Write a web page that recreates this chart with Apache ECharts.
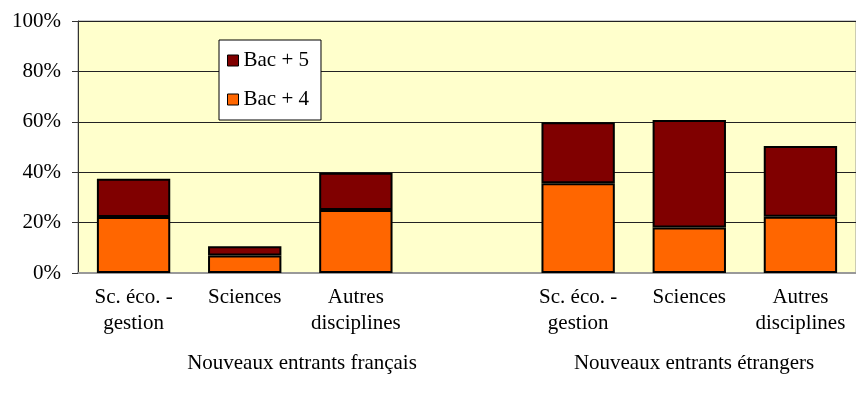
<!DOCTYPE html>
<html>
<head>
<meta charset="utf-8">
<script src="https://cdn.jsdelivr.net/npm/echarts@6/dist/echarts.min.js"></script>
<style>
  html, body {margin: 0; padding: 0; background: #fff;}
  #chart {width: 856px; height: 403px;}
</style>
</head>
<body>
<div id="chart"></div>
<script>
// categories (empty slot between the two groups)
var categories = ['Sc. éco. -\ngestion', 'Sciences', 'Autres\ndisciplines', '', 'Sc. éco. -\ngestion', 'Sciences', 'Autres\ndisciplines'];
var bac4 = [22.2, 6.9, 25.0, '-', 35.6, 18.1, 22.3];
var bac5 = [15.2, 3.7, 14.8, '-', 24.2, 42.6, 28.1];
var groupLabels = ['Nouveaux entrants français', 'Nouveaux entrants étrangers'];
var yTicks = [0, 20, 40, 60, 80, 100];

var font = '"Liberation Serif", "DejaVu Serif", serif';
var chart = echarts.init(document.getElementById('chart'));

chart.setOption({
  animation: false,
  grid: {left: 78, right: 0, top: 21, bottom: 130, show: true, backgroundColor: '#FFFFCC', borderColor: '#999', borderWidth: 1},
  legend: {
    data: ['Bac + 5', 'Bac + 4'],
    orient: 'vertical',
    left: 219, top: 40,
    backgroundColor: '#fff', borderColor: '#000', borderWidth: 1,
    padding: [10, 12, 10, 8],
    itemGap: 18, itemWidth: 11, itemHeight: 11, icon: 'rect',
    itemStyle: {borderColor: '#000', borderWidth: 1},
    textStyle: {fontFamily: font, fontSize: 21, color: '#000'}
  },
  xAxis: [{
    type: 'category',
    data: categories,
    axisTick: {show: false},
    axisLine: {lineStyle: {color: '#999', width: 2}},
    axisLabel: {interval: 0, margin: 11, lineHeight: 26, fontFamily: font, fontSize: 21, color: '#000'}
  }],
  yAxis: [{
    type: 'value', min: yTicks[0], max: yTicks[yTicks.length - 1], interval: 20,
    axisLine: {show: true, lineStyle: {color: '#333'}},
    axisTick: {show: true, length: 6, lineStyle: {color: '#333'}},
    splitLine: {lineStyle: {color: '#222', width: 1}},
    axisLabel: {formatter: '{value}%', margin: 17, fontFamily: font, fontSize: 21, color: '#000'}
  }],
  series: [
    {name: 'Bac + 4', type: 'bar', stack: 'total', barWidth: '66%', data: bac4,
      itemStyle: {color: '#FF6600', borderColor: '#000', borderWidth: 2}},
    {name: 'Bac + 5', type: 'bar', stack: 'total', barWidth: '66%', data: bac5,
      itemStyle: {color: '#800000', borderColor: '#000', borderWidth: 2}}
  ],
  graphic: [
    {type: 'text', x: 302, y: 363, style: {text: groupLabels[0], font: '21px ' + font, fill: '#000', align: 'center', verticalAlign: 'middle'}},
    {type: 'text', x: 694, y: 363, style: {text: groupLabels[1], font: '21px ' + font, fill: '#000', align: 'center', verticalAlign: 'middle'}}
  ]
});
</script>
</body>
</html>
